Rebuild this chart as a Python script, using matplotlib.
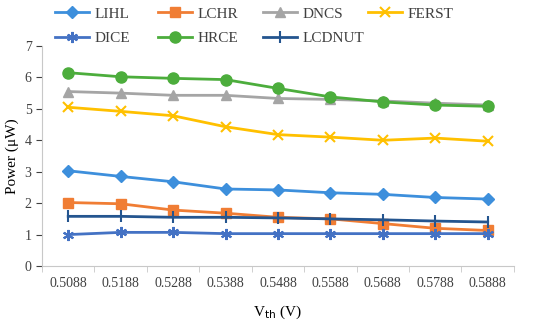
import matplotlib.pyplot as plt
import numpy as np

plt.rcParams['font.family'] = ['Liberation Serif', 'DejaVu Serif']

vth = ['0.5088', '0.5188', '0.5288', '0.5388', '0.5488', '0.5588', '0.5688', '0.5788', '0.5888']

lihl = [3.03, 2.85, 2.68, 2.45, 2.42, 2.33, 2.28, 2.18, 2.13]
lchr = [2.02, 1.98, 1.78, 1.68, 1.55, 1.50, 1.35, 1.20, 1.13]
dncs = [5.55, 5.50, 5.43, 5.43, 5.33, 5.30, 5.25, 5.18, 5.12]
ferst = [5.05, 4.92, 4.78, 4.43, 4.18, 4.10, 4.00, 4.07, 3.97]
dice = [1.00, 1.07, 1.07, 1.03, 1.03, 1.03, 1.03, 1.03, 1.03]
hrce = [6.15, 6.02, 5.97, 5.93, 5.65, 5.38, 5.22, 5.12, 5.08]
lcdnut = [1.58, 1.58, 1.55, 1.55, 1.53, 1.50, 1.47, 1.43, 1.40]

x = np.arange(len(vth))

fig = plt.figure(figsize=(5.5, 3.26), dpi=100)
ax = fig.add_axes([0.0764, 0.184, 0.858, 0.675])

h_lihl, = ax.plot(x, lihl, color='#3d8fdc', marker='D', markersize=6, linewidth=2, label='LIHL')
h_lchr, = ax.plot(x, lchr, color='#f07d34', marker='s', markersize=7, linewidth=2, label='LCHR')
h_dncs, = ax.plot(x, dncs, color='#a5a5a5', marker='^', markersize=7, linewidth=2, label='DNCS')
h_ferst, = ax.plot(x, ferst, color='#ffc000', marker='x', markersize=7, markeredgewidth=1.5, linewidth=2, label='FERST')
h_dice, = ax.plot(x, dice, color='#4472c4', marker=(6, 2, 0), markersize=8, markeredgewidth=1.5, linewidth=2, label='DICE')
h_hrce, = ax.plot(x, hrce, color='#4cad3c', marker='o', markersize=8, linewidth=2, label='HRCE')
h_lcdnut, = ax.plot(x, lcdnut, color='#24558f', marker='|', markersize=9, markeredgewidth=1.5, linewidth=2, label='LCDNUT')

ax.set_xlim(-0.5, len(vth) - 0.5)
ax.set_ylim(0, 7)
ax.set_yticks(range(0, 8))
ax.set_xticks(x)
ax.set_xticklabels(vth, fontsize=10, color='#404040')
ax.set_xticks(np.arange(-0.5, len(vth)), minor=True)
ax.tick_params(axis='x', which='major', length=0, pad=8)
ax.tick_params(axis='x', which='minor', length=4, color='#c8c8c8')
ax.tick_params(axis='y', labelsize=10, colors='#404040', length=4)
for t in ax.get_yticklines():
    t.set_color('#c8c8c8')

for s in ['top', 'right']:
    ax.spines[s].set_visible(False)
for s in ['left', 'bottom']:
    ax.spines[s].set_color('#c8c8c8')

ax.set_xlabel('V$_{\\rm th}$ (V)', fontsize=11, labelpad=10)
ax.set_ylabel('Power (μW)', fontsize=11)

# one legend per column so the columns sit evenly spaced like the original
cols = [[h_lihl, h_dice], [h_lchr, h_hrce], [h_dncs, h_lcdnut], [h_ferst]]
col_x = [55, 158, 263, 368]
for hs, cx in zip(cols, col_x):
    leg = fig.legend(handles=hs, labels=[h.get_label() for h in hs],
                     loc='upper left', bbox_to_anchor=(cx / 550, 1 - 7 / 326),
                     frameon=False, fontsize=11, handlelength=2.2, handletextpad=0.4,
                     borderaxespad=0, borderpad=0, labelspacing=0.7,
                     labelcolor='#404040')

plt.savefig('out.png', dpi=100)
